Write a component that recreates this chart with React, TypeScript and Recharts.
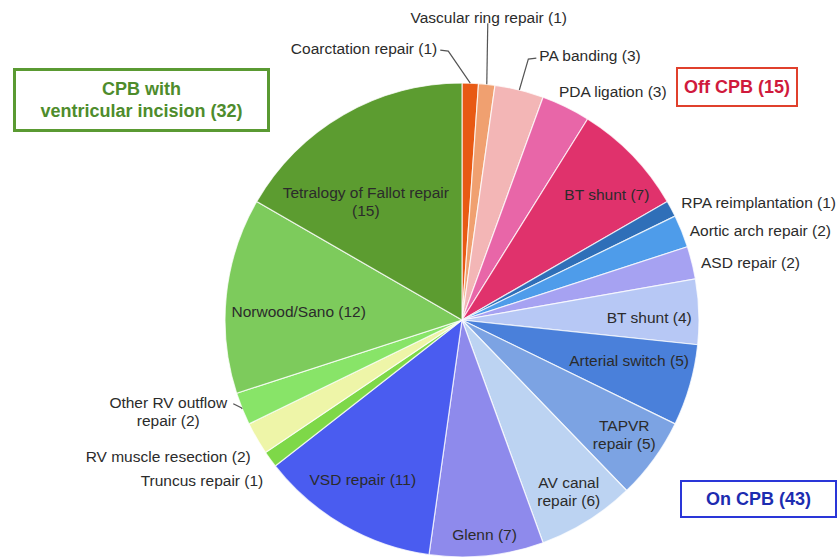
import { PieChart, Pie, Cell } from "recharts";

// procedures in clockwise order from 12 o'clock
const PROCEDURES: string[] = [
  "Coarctation repair",
  "Vascular ring repair",
  "PA banding",
  "PDA ligation",
  "BT shunt",
  "RPA reimplantation",
  "Aortic arch repair",
  "ASD repair",
  "BT shunt",
  "Arterial switch",
  "TAPVR repair",
  "AV canal repair",
  "Glenn",
  "VSD repair",
  "Truncus repair",
  "RV muscle resection",
  "Other RV outflow repair",
  "Norwood/Sano",
  "Tetralogy of Fallot repair",
];
const CASES: number[] = [1, 1, 3, 3, 7, 1, 2, 2, 4, 5, 5, 6, 7, 11, 1, 2, 2, 12, 15];
const GROUPS: string[] = [
  "off", "off", "off", "off", "off",
  "on", "on", "on", "on", "on", "on", "on", "on", "on",
  "inc", "inc", "inc", "inc", "inc",
];

const COLORS: string[] = [
  "#E85A14", "#F0A070", "#F3B6B6", "#E866A8", "#E0326C",
  "#2F6FB8", "#4E9CEA", "#A6A2F2", "#B7C8F5", "#4A80DA",
  "#7CA3E3", "#BCD3F2", "#8E8AEC", "#4A5CF0",
  "#7ED848", "#EEF5A8", "#88E468", "#7DCB5C", "#5C9C30",
];

const data = PROCEDURES.map((name, i) => ({ name, value: CASES[i], group: GROUPS[i] }));
const total = (g: string) =>
  data.filter((d) => d.group === g).reduce((s, d) => s + d.value, 0);

const FONT = '"Liberation Sans", Arial, Helvetica, sans-serif';

type Layout = {
  out?: boolean;
  r?: number; // inside: radius fraction
  a?: number; // inside: angle clockwise from top
  pts?: number[][]; // leader points relative to the slice edge
  at?: number[]; // text position relative to the slice edge
  anchor?: "start" | "middle" | "end";
  brk?: number; // words on the first line
};

const LABEL_LAYOUT: Layout[] = [
  { out: true, pts: [[-22, -32], [-30, -33]], at: [-33, -35], anchor: "end" },
  { out: true, pts: [[1, -61]], at: [2, -67], anchor: "middle" },
  { out: true, pts: [[9, -31], [17, -32]], at: [20, -35], anchor: "start" },
  { out: true, at: [-7, -16], anchor: "start" },
  { r: 0.81, a: 49 },
  { out: true, at: [10, -7], anchor: "start" },
  { out: true, at: [8, -1], anchor: "start" },
  { out: true, at: [9, -1], anchor: "start" },
  { r: 0.79, a: 89 },
  { r: 0.725, a: 103.5 },
  { r: 0.836, a: 125, brk: 1 },
  { r: 0.85, a: 148, brk: 2 },
  { r: 0.91, a: 174 },
  { r: 0.79, a: 212 },
  { out: true, at: [-7, 21], anchor: "end" },
  { out: true, at: [-6, 17], anchor: "end" },
  { out: true, pts: [[-1, -1], [-9, -5]], at: [-74, 2], anchor: "middle", brk: 3 },
  { r: 0.69, a: 273 },
  { r: 0.645, a: 321, brk: 4 },
];

const RAD = Math.PI / 180;

function renderLabel(props: any) {
  const { cx, cy, midAngle, outerRadius, index } = props;
  const d = data[index];
  const lay = LABEL_LAYOUT[index];
  const text = `${d.name} (${d.value})`;
  const words = text.split(" ");
  const lines = lay.brk
    ? [words.slice(0, lay.brk).join(" "), words.slice(lay.brk).join(" ")]
    : [text];
  const lh = 18;

  let x: number;
  let y: number;
  const anchor = lay.anchor || "middle";
  let leader = null;
  if (lay.out) {
    const th = 90 - midAngle;
    const ex = cx + outerRadius * Math.sin(th * RAD);
    const ey = cy - outerRadius * Math.cos(th * RAD);
    x = ex + lay.at![0];
    y = ey + lay.at![1];
    if (lay.pts) {
      const p = [[ex, ey], ...lay.pts.map(([dx, dy]) => [ex + dx, ey + dy])];
      leader = (
        <polyline
          points={p.map((q) => q.join(",")).join(" ")}
          fill="none"
          stroke="#555"
          strokeWidth={1.2}
        />
      );
    }
  } else {
    const th = lay.a ?? 90 - midAngle;
    x = cx + lay.r! * outerRadius * Math.sin(th * RAD);
    y = cy - lay.r! * outerRadius * Math.cos(th * RAD);
  }
  const y0 = y - ((lines.length - 1) * lh) / 2;

  return (
    <g key={`lbl-${index}`}>
      {leader}
      <text
        x={x}
        y={y0}
        textAnchor={anchor}
        dominantBaseline="central"
        fontFamily={FONT}
        fontSize={15.5}
        fill="#2b2b2b"
      >
        {lines.map((ln, i) => (
          <tspan key={i} x={x} y={y0 + i * lh}>
            {ln}
          </tspan>
        ))}
      </text>
    </g>
  );
}

const boxBase = {
  position: "absolute" as const,
  boxSizing: "border-box" as const,
  background: "#fff",
  fontFamily: FONT,
  fontWeight: 700,
  fontSize: 18,
  display: "flex",
  alignItems: "center",
  justifyContent: "center",
  textAlign: "center" as const,
  lineHeight: "22px",
};

export default function App() {
  return (
    <div style={{ position: "absolute", left: 0, top: 0, width: 838, height: 560, background: "#fff" }}>
      <PieChart width={838} height={560} margin={{ top: 0, right: 0, bottom: 0, left: 0 }}>
        <Pie
          data={data}
          dataKey="value"
          nameKey="name"
          cx={462}
          cy={320}
          outerRadius={237}
          startAngle={90}
          endAngle={-270}
          stroke="rgba(255,255,255,0.75)"
          strokeWidth={1.2}
          labelLine={false}
          label={renderLabel}
          isAnimationActive={false}
        >
          {data.map((_, i) => (
            <Cell key={`cell-${i}`} fill={COLORS[i]} />
          ))}
        </Pie>
      </PieChart>

      <div
        style={{ ...boxBase, left: 13, top: 68, width: 257, height: 64, border: "3px solid #5A9A32", color: "#4E8C2C" }}
      >
        <div>
          CPB with
          <br />
          ventricular incision ({total("inc")})
        </div>
      </div>
      <div
        style={{ ...boxBase, left: 676, top: 67, width: 122, height: 40, border: "2px solid #E0402C", color: "#D01A3C" }}
      >
        Off CPB ({total("off")})
      </div>
      <div
        style={{ ...boxBase, left: 680, top: 480, width: 157, height: 38, border: "2px solid #2A36D8", color: "#1C2CB0" }}
      >
        On CPB ({total("on")})
      </div>
    </div>
  );
}
